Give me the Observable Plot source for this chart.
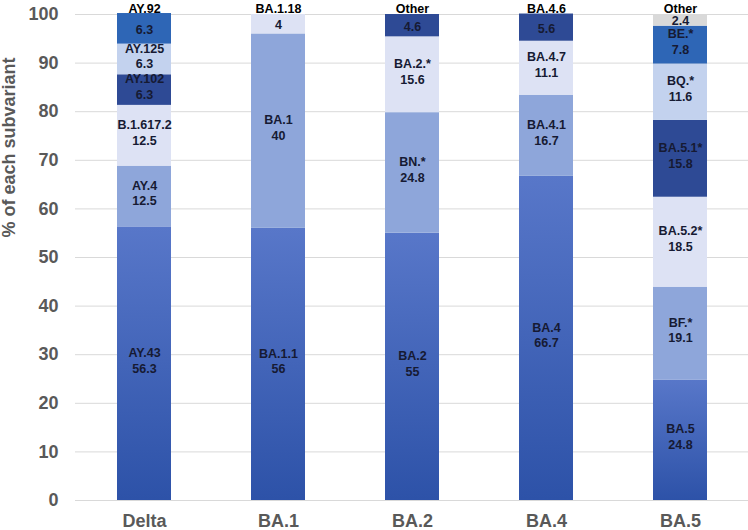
<!DOCTYPE html>
<html><head><meta charset="utf-8">
<script src="https://cdn.jsdelivr.net/npm/d3@7"></script>
<script src="https://cdn.jsdelivr.net/npm/@observablehq/plot@0.6"></script>
<style>
body{margin:0;background:#fff;font-family:"Liberation Sans",Arial,sans-serif}
#chart svg{display:block}
</style>
</head><body><div id="chart"></div>
<script>
const groups = ["Delta", "BA.1", "BA.2", "BA.4", "BA.5"];
const deltaNames = ["AY.43", "AY.4", "B.1.617.2", "AY.102", "AY.125", "AY.92"];
const deltaValues = [56.3, 12.5, 12.5, 6.3, 6.3, 6.3];
const ba1Names = ["BA.1.1", "BA.1", "BA.1.18"];
const ba1Values = [56, 40, 4];
const ba2Names = ["BA.2", "BN.*", "BA.2.*", "Other"];
const ba2Values = [55, 24.8, 15.6, 4.6];
const ba4Names = ["BA.4", "BA.4.1", "BA.4.7", "BA.4.6"];
const ba4Values = [66.7, 16.7, 11.1, 5.6];
const ba5Names = ["BA.5", "BF.*", "BA.5.2*", "BA.5.1*", "BQ.*", "BE.*", "Other"];
const ba5Values = [24.8, 19.1, 18.5, 15.8, 11.6, 7.8, 2.4];
const yTicks = [0, 10, 20, 30, 40, 50, 60, 70, 80, 90, 100];
const yLabel = "% of each subvariant";

const names = [deltaNames, ba1Names, ba2Names, ba4Names, ba5Names];
const values = [deltaValues, ba1Values, ba2Values, ba4Values, ba5Values];

// shade by position in the stack
const shades = ["url(#baseGrad)", "#8ea6da", "#dde2f4", "#2e4a95", "#c3d2ee", "#2e66b6", "#d9d9d9"];

const data = [];
groups.forEach((g, gi) => {
  let acc = 0;
  names[gi].forEach((n, i) => {
    const v = values[gi][i];
    data.push({group: g, name: n, value: v, rank: i, y1: acc, y2: acc + v, top: i === names[gi].length - 1 && v < 7});
    acc += v;
  });
});

const font = {fontFamily: "'Liberation Sans', Arial, sans-serif", fontWeight: "bold"};

const chart = Plot.plot({
  width: 748,
  height: 530,
  marginLeft: 75,
  marginRight: 0,
  marginTop: 14,
  marginBottom: 30,
  style: {fontFamily: "'Liberation Sans', Arial, sans-serif", background: "#fff"},
  x: {domain: groups, paddingInner: 0.6, paddingOuter: 0.3},
  y: {domain: [0, 100]},
  color: {type: "ordinal", domain: d3.range(shades.length), range: shades},
  marks: [
    Plot.ruleY(yTicks, {stroke: "#d9d9d9", strokeWidth: 1}),
    Plot.barY(data, {x: "group", y1: "y1", y2: "y2", fill: "rank", inset: 0}),
    Plot.text(data.filter(d => !d.top), {
      x: "group", y: d => (d.y1 + d.y2) / 2,
      text: d => d.name + "\n" + d.value,
      dy: -4, lineHeight: 1.25, fontSize: 12.5, fill: "#161a33", ...font
    }),
    Plot.text(data.filter(d => d.top), {
      x: "group", y: d => (d.y1 + d.y2) / 2,
      text: d => String(d.value), dy: 1,
      fontSize: 12.5, fill: "#161a33", ...font
    }),
    Plot.text(data.filter(d => d.top), {
      x: "group", y: () => 100,
      text: "name", lineAnchor: "bottom", dy: -2,
      fontSize: 12.5, fill: "#000", ...font
    }),
    Plot.axisY({
      ticks: yTicks, tickSize: 0, tickPadding: 17, fontSize: 18, fill: "#595959", ...font, label: null
    }),
    Plot.text([yLabel], {
      frameAnchor: "left", text: d => d, rotate: -90, dx: -66, dy: -20,
      fontSize: 18, fill: "#595959", ...font
    }),
    Plot.axisX({tickSize: 0, tickPadding: 14, fontSize: 18, fill: "#595959", ...font, label: null})
  ]
});

const svg = d3.select(chart);
const grad = svg.insert("defs", ":first-child").append("linearGradient")
  .attr("id", "baseGrad").attr("x1", 0).attr("y1", 0).attr("x2", 0).attr("y2", 1);
grad.append("stop").attr("offset", "0%").attr("stop-color", "#5877c9");
grad.append("stop").attr("offset", "100%").attr("stop-color", "#2d52a8");

document.getElementById("chart").appendChild(chart);
</script>
</body></html>
